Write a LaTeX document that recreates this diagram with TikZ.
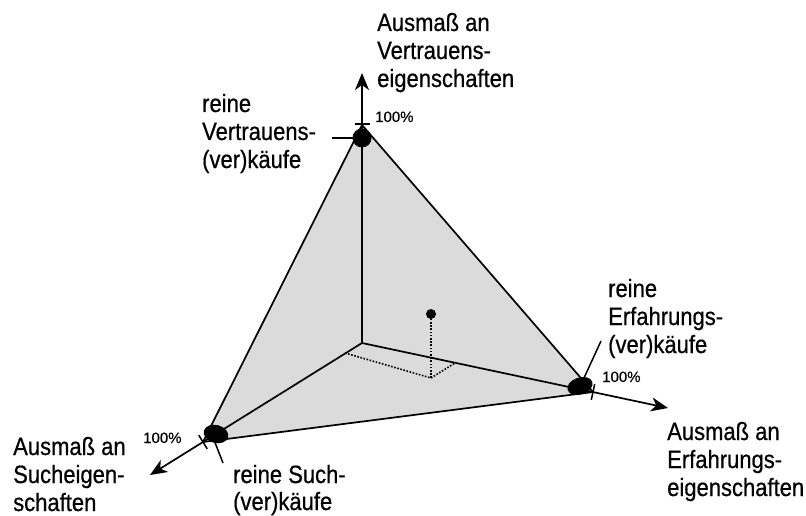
\documentclass[tikz,border=0pt]{standalone}
\usepackage{fontspec}
\setmainfont{Liberation Sans}[FakeStretch=0.88,FakeBold=0.6]
\newfontfamily\pctfont{Liberation Sans}[FakeBold=0.4]
\usetikzlibrary{arrows.meta,calc}
\begin{document}
\begin{tikzpicture}[x=1pt,y=-1pt,
  lbl/.style={anchor=base west,inner sep=0pt,font=\fontsize{25}{28}\selectfont},
  pct/.style={anchor=base west,inner sep=0pt,font=\pctfont\fontsize{15}{17}\selectfont},
  axis/.style={line width=1.7pt,-{Stealth[length=17pt,width=14pt,inset=5pt]}},
  edge/.style={line width=1.7pt},
  tickline/.style={line width=1.5pt},
  dotline/.style={line width=1.6pt,dash pattern=on 1.6pt off 1.6pt},
  blob/.style={fill=black}]
\path[use as bounding box] (0,0) rectangle (806,516);
% geometry
\coordinate (O) at (362,343);
\coordinate (T) at (362,125);
\coordinate (E) at (593,392);
\coordinate (S) at (203,442);
\coordinate (AT) at (362,73);
\coordinate (AE) at (668,408);
\coordinate (AS) at (150,475);
% grey face
\fill[black!14] (T) -- (E) -- (S) -- cycle;
% dotted projection
\coordinate (PA) at (345,353);
\coordinate (PP) at (431,378);
\coordinate (PB) at (455,363);
\coordinate (PD) at (431,314);
\draw[dotline] (PA) -- (PP) -- (PB);
\draw[dotline] (PP) -- (PD);
\fill (PD) circle (5);
% axes
\draw[axis] (O) -- (AT);
\draw[axis] (O) -- (AE);
\draw[axis] (O) -- (AS);
% triangle edges
\draw[edge,line join=round] (T) -- (E) -- (S) -- cycle;
% blobs
\fill[blob] (362,138) circle (9.5);
\fill[blob,rotate around={18:(580,386)}] (580,386) ellipse (13 and 8.5);
\fill[blob,rotate around={-15:(216,434)}] (216,434) ellipse (12.5 and 9);
% ticks
\draw[tickline] (355,124) -- (370,124);
\draw[tickline] ($(E)!8pt!90:(AE)$) -- ($(E)!8pt!-90:(AE)$);
\draw[tickline] ($(S)!8pt!90:(AS)$) -- ($(S)!8pt!-90:(AS)$);
% leaders
\coordinate (LT) at (332,138);
\coordinate (LE) at (601,341);
\coordinate (LS) at (223,463);
\draw[tickline] (LT) -- (356,138);
\draw[tickline] (LE) -- (584,378);
\draw[tickline] (LS) -- (214,440);
% labels
\node[lbl] (t1) at (377,31) {Ausmaß an};
\node[lbl] (t2) at (377,59) {Vertrauens-};
\node[lbl] (t3) at (377,87) {eigenschaften};
\node[lbl] (v1) at (202,112) {reine};
\node[lbl] (v2) at (202,140) {Vertrauens-};
\node[lbl] (v3) at (202,168) {(ver)käufe};
\node[lbl] (e1) at (608,297) {reine};
\node[lbl] (e2) at (608,325) {Erfahrungs-};
\node[lbl] (e3) at (608,353) {(ver)käufe};
\node[lbl] (r1) at (667,440) {Ausmaß an};
\node[lbl] (r2) at (667,468) {Erfahrungs-};
\node[lbl] (r3) at (667,496) {eigenschaften};
\node[lbl] (s1) at (13,455) {Ausmaß an};
\node[lbl] (s2) at (13,483) {Sucheigen-};
\node[lbl] (s3) at (13,511) {schaften};
\node[lbl] (u1) at (233,483) {reine Such-};
\node[lbl] (u2) at (233,510) {(ver)käufe};
\node[pct] (p1) at (375,122) {100\%};
\node[pct] (p2) at (602,382) {100\%};
\node[pct] (p3) at (143,443) {100\%};
\end{tikzpicture}
\end{document}
